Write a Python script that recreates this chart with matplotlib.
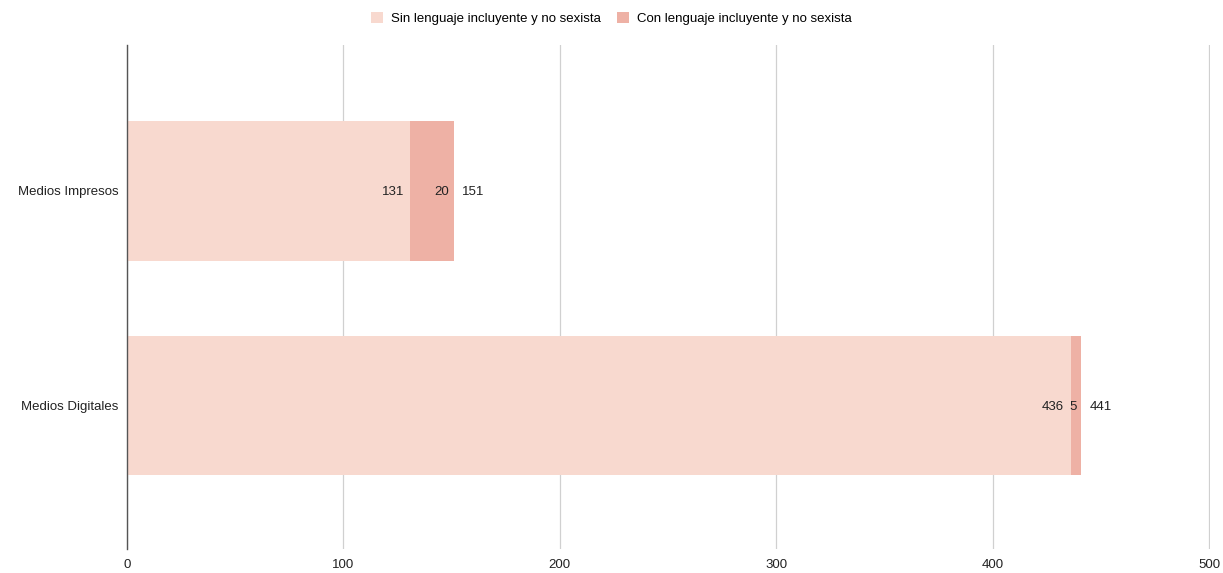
import numpy as np
import matplotlib.pyplot as plt

plt.rcParams['font.family'] = ['Liberation Sans', 'DejaVu Sans']

categorias = ["Medios Impresos", "Medios Digitales"]
sin_lenguaje = [131, 436]
con_lenguaje = [20, 5]
totales = [151, 441]

color_sin = "#f8d9cf"
color_con = "#eeb1a5"

fig = plt.figure(figsize=(12.23, 5.73), dpi=100)
ax = fig.add_axes([0.1038, 0.042, 0.8856, 0.879])

y = np.arange(len(categorias))
ax.barh(y, sin_lenguaje, height=0.65, color=color_sin, label="Sin lenguaje incluyente y no sexista", zorder=2)
ax.barh(y, con_lenguaje, left=sin_lenguaje, height=0.65, color=color_con, label="Con lenguaje incluyente y no sexista", zorder=2)

for i in range(len(categorias)):
    ax.text(sin_lenguaje[i] - 3, y[i], str(sin_lenguaje[i]), ha='right', va='center_baseline', fontsize=9.5, color='#222222', zorder=3)
    ax.text(sin_lenguaje[i] + con_lenguaje[i] - 2, y[i], str(con_lenguaje[i]), ha='right', va='center_baseline', fontsize=9.5, color='#222222', zorder=3)
    ax.text(totales[i] + 4, y[i], str(totales[i]), ha='left', va='center_baseline', fontsize=9.5, color='#222222', zorder=3)

ax.set_xlim(0, 500.4)
ax.set_ylim(1.67, -0.679)
ax.set_xticks([0, 100, 200, 300, 400, 500])
ax.set_yticks(y)
ax.set_yticklabels(categorias)
ax.tick_params(axis='both', length=0, labelsize=9.5, colors='#222222')
ax.tick_params(axis='x', pad=7)
ax.tick_params(axis='y', pad=6)
ax.grid(axis='x', color='#d0d0d0', linewidth=0.9, zorder=0)
for s in ['top', 'right', 'bottom']:
    ax.spines[s].set_visible(False)
ax.spines['left'].set_color('#555555')
ax.spines['left'].set_linewidth(1.0)
ax.spines['left'].set_zorder(3)

fig.legend(loc='upper center', bbox_to_anchor=(0.5, 1.0), ncol=2, frameon=False,
           fontsize=9.5, handlelength=0.9, handleheight=0.9, columnspacing=1.2, handletextpad=0.6)

fig.savefig("out.png", dpi=100)
